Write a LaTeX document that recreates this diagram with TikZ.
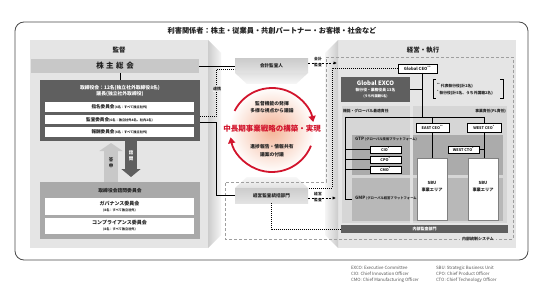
\documentclass[tikz,border=0pt]{standalone}
\usepackage{fontspec}
\setmainfont{Noto Sans CJK JP}
\usetikzlibrary{arrows.meta,calc}
\definecolor{panelc}{HTML}{E5E5E5}
\definecolor{darkc}{HTML}{5F5F5F}
\definecolor{midc}{HTML}{A9A9A9}
\definecolor{boxg}{HTML}{C8C8C8}
\definecolor{redc}{HTML}{D2142C}
\definecolor{colc}{HTML}{D6D6D6}
\definecolor{gtpc}{HTML}{ABABAB}
\definecolor{gmpc}{HTML}{B8B8B8}
\definecolor{framec}{HTML}{4A4A4A}
\definecolor{txtc}{HTML}{222222}
\definecolor{legc}{HTML}{555555}
\definecolor{salmon}{HTML}{F4B497}
\newcommand{\myfs}[2]{\fontsize{#1pt}{#2pt}\selectfont\bfseries}
\begin{document}
\begin{tikzpicture}[x=1pt,y=-1pt,
  every node/.style={inner sep=0pt,outer sep=0pt,text=txtc},
  conn/.style={line width=0.75pt, draw=black},
  dotc/.style={line width=0.9pt, draw=black, dash pattern=on 0.9pt off 1.1pt},
  dasharrow/.style={line width=0.6pt, draw=black, dash pattern=on 2pt off 1.5pt, -{Latex[length=3.5pt,width=3.2pt]}},
  wbox/.style={fill=white, minimum width=149pt},
  cbox/.style={fill=white, draw=black, line width=0.5pt, font=\myfs{3.8}{4}},
  midbox/.style={top color=white!80!black, bottom color=white!89!black, minimum width=73pt, font=\myfs{4.6}{5}},
  redarc/.style={draw=redc, line width=1.8pt, -{Triangle[length=6pt,width=7pt]}},
  small/.style={font=\myfs{4.8}{5}},
  tiny/.style={font=\myfs{3.2}{4}},
  legend/.style={anchor=west, text=legc, font=\fontsize{4.4pt}{5pt}\selectfont},
  sbubox/.style={fill=white, draw=gray, line width=0.5pt, minimum width=30pt, minimum height=62pt},
  sbutxt/.style={font=\myfs{4.2}{5}}]
\useasboundingbox (0,0) rectangle (543,302);
\fill[white] (0,0) rectangle (543,302);

% outer frame
\draw[framec, line width=0.8pt, rounded corners=9pt] (15,22) rectangle (528,260);
\node[font=\myfs{7.2}{8}] (title) at (272,31) {利害関係者：株主・従業員・共創パートナー・お客様・社会など};

% panels and walls
\fill[panelc] (30,40) rectangle (208,248);
\shade[left color=white!80!black, right color=white!96!black] (208,40) -- (221,53) -- (221,235) -- (208,248) -- cycle;
\fill[panelc] (338,40) rectangle (516,248);
\shade[left color=white!96!black, right color=white!80!black] (325,53) -- (338,40) -- (338,248) -- (325,235) -- cycle;
\shade[top color=white!88!black, bottom color=white!97!black] (235,73) -- (308,73) -- (296,84) -- (247,84) -- cycle;
\shade[top color=white!97!black, bottom color=white!88!black] (247,177) -- (296,177) -- (308,188) -- (235,188) -- cycle;

\node[font=\myfs{6.5}{7}] (kantoku) at (119,50) {監督};
\node[font=\myfs{6.5}{7}] (keiei) at (423,50) {経営・執行};

% left: supervision
\node[fill=boxg, minimum width=168pt, minimum height=14pt, font=\myfs{7.5}{8}] (agm) at (115,66) {株\kern2.5pt 主\kern2.5pt 総\kern2.5pt 会};
\node[fill=darkc, minimum width=160pt, minimum height=61pt] (board) at (120,110.5) {};
\node[text=white, font=\myfs{4.8}{5}] (boardtxt1) at (120,88) {取締役会：12名(独立社外取締役8名)};
\node[text=white, font=\myfs{4.8}{5}] (boardtxt2) at (120,94) {議長(独立社外取締役)};
\draw[conn] (agm.south -| board.north) -- (board.north);
\node[wbox, minimum height=10pt, font=\myfs{4.6}{5}] (nom) at (119.5,107) {指名委員会{\myfs{3.2}{4}(4名：すべて独立社外)}};
\node[wbox, minimum height=9pt, font=\myfs{4.6}{5}] (aud) at (119.5,119.5) {監査委員会{\myfs{3.2}{4}(6名：独立社外4名、社内2名)}};
\node[wbox, minimum height=10pt, font=\myfs{4.6}{5}] (comp) at (119.5,132) {報酬委員会{\myfs{3.2}{4}(4名：すべて独立社外)}};

\node[fill=midc, minimum width=160pt, minimum height=57pt] (adv) at (120,210.5) {};
\node[font=\myfs{4.8}{5}] (advtxt) at (120,190.5) {取締役会諮問委員会};
\node[wbox, minimum height=17pt] (gov) at (119.5,206.5) {};
\node[font=\myfs{5}{6}] (govt1) at (119.5,203.5) {ガバナンス委員会};
\node[tiny] (govt2) at (119.5,210) {(8名：すべて独立社外)};
\node[wbox, minimum height=16pt] (cpl) at (119.5,226) {};
\node[font=\myfs{5}{6}] (cplt1) at (119.5,223) {コンプライアンス委員会};
\node[tiny] (cplt2) at (119.5,229.5) {(8名：すべて独立社外)};

\draw[line width=14pt, draw=boxg, -{Triangle[length=8pt,width=23pt]}] ([xshift=-9pt]adv.north) -- ([xshift=-9pt,yshift=-2pt]board.south);
\draw[line width=12pt, draw=darkc, -{Triangle[length=8pt,width=19pt]}] ([xshift=11pt]board.south) -- ([xshift=11pt,yshift=5pt]adv.north);
\node[font=\myfs{4.5}{5}] (toshin1) at (111,160) {答};
\node[font=\myfs{4.5}{5}] (toshin2) at (111,165.5) {申};
\node[font=\myfs{4.5}{5}, text=white] (shimon1) at (131,153) {諮};
\node[font=\myfs{4.5}{5}, text=white] (shimon2) at (131,158.5) {問};

% middle
\node[midbox, minimum height=14pt] (auditor) at (271.5,66) {会計監査人};
\node[midbox, minimum height=15pt] (iad) at (271.5,195.5) {経営監査統括部門};
\node[circle, minimum size=86pt, inner color=salmon, outer color=white] (core) at (272,130) {};
\draw[redarc] (core.center) ++(-153:42) arc[start angle=-153, end angle=-11, radius=42];
\draw[redarc] (core.center) ++(22:42) arc[start angle=22, end angle=170, radius=42];
\node[small] (sup1) at (272,103.5) {監督機能の発揮};
\node[small] (sup2) at (272,111) {多様な視点から議論};
\node[small] (rep1) at (272,147) {進捗報告・情報共有};
\node[small] (rep2) at (272,154.5) {議案の付議};
\node[font=\myfs{7.5}{8}, text=redc] (goal) at (272,129) {中長期事業戦略の構築・実現};

% right: management
\draw[gray!75, line width=0.7pt, dash pattern=on 3pt off 2pt] (326,57) -- (513,57) -- (513,239) -- (225,239) -- (225,182) -- (326,182) -- cycle;
\fill[colc] (342,106) rectangle (410,223);
\fill[colc] (413,106) rectangle (507,223);
\node[fill=gtpc, minimum width=151pt, minimum height=40pt] (gtp) at (427.5,155) {};
\node[fill=gmpc, minimum width=151pt, minimum height=43pt] (gmp) at (427.5,199.5) {};
\fill[white!88!black] (410,135) rectangle (413,221);
\node[anchor=west, font=\myfs{3.8}{4}] (func) at (343,111) {機能・グローバル最適責任};
\node[anchor=east, font=\myfs{3.8}{4}] (bus) at (506,111) {事業責任(PL責任)};
\node[anchor=west, font=\myfs{3.3}{4}] (gtptxt) at (355,139) {{\myfs{4.5}{5}GTP} (グローバル技術プラットフォーム)};
\node[anchor=west, font=\myfs{3.3}{4}] (gmptxt) at (355,198) {{\myfs{4.5}{5}GMP} (グローバル経営プラットフォーム)};

\node[cbox, minimum width=39pt, minimum height=9pt, font=\myfs{4.2}{5}] (gceo) at (417.5,68.5) {Global CEO\textsuperscript{**}};
\node[fill=darkc, minimum width=69pt, minimum height=25pt] (exco) at (375.5,89.5) {};
\node[text=white, font=\myfs{6}{7}] (excot1) at (375.5,83) {Global EXCO};
\node[text=white, font=\myfs{3.8}{4}] (excot2) at (375.5,90.5) {執行役・業務役員 13名};
\node[text=white, font=\myfs{3.3}{4}] (excot3) at (375.5,96.5) {(うち外国籍5名)};
\draw[line width=0.5pt] (436,79) -- (433,79) -- (433,98) -- (436,98);
\draw[line width=0.5pt] (500,79) -- (503,79) -- (503,98) -- (500,98);
\node[anchor=west, font=\myfs{3.8}{4}] (leg1) at (437,86) {\textsuperscript{**}\,代表執行役(計2名)};
\node[anchor=west, font=\myfs{3.8}{4}] (leg2) at (437,93) {\textsuperscript{*}\,執行役(計5名、うち外国籍2名)};

\coordinate (hL) at (345,117);
\coordinate (trunk) at (422,117);
\draw[conn] (gceo.south -| trunk) -- (trunk);
\draw[conn] (exco.east) -- (exco.east -| trunk);
\node[cbox, minimum width=33pt, minimum height=9pt] (eceo) at (432.5,127.5) {EAST CEO\textsuperscript{**}};
\node[cbox, minimum width=34pt, minimum height=9pt] (wceo) at (484,127.5) {WEST CEO\textsuperscript{*}};
\draw[conn] (hL) -- (wceo.north |- hL);
\draw[conn] (eceo.north |- hL) -- (eceo.north);
\draw[conn] (wceo.north |- hL) -- (wceo.north);
\node[cbox, minimum width=31pt, minimum height=7pt] (cio) at (385.5,149.5) {CIO\textsuperscript{*}};
\node[cbox, minimum width=31pt, minimum height=7pt] (cpo) at (385.5,159.5) {CPO\textsuperscript{*}};
\node[cbox, minimum width=31pt, minimum height=7pt] (cmo) at (385.5,169.5) {CMO\textsuperscript{*}};
\node[cbox, minimum width=31pt, minimum height=7pt] (wcto) at (463.5,149.5) {WEST CTO\textsuperscript{*}};
\node[sbubox] (sbu1) at (432,189) {};
\node[sbutxt] (sbu1a) at (432,183) {SBU};
\node[sbutxt] (sbu1b) at (432,190) {事業エリア};
\node[sbubox] (sbu2) at (483,189) {};
\node[sbutxt] (sbu2a) at (483,183) {SBU};
\node[sbutxt] (sbu2b) at (483,190) {事業エリア};
\draw[conn] (hL) -- (hL |- gmp.west) -- (gmp.west);
\draw[conn] (hL |- cio.west) -- (cio.west);
\draw[conn] (hL |- cpo.west) -- (cpo.west);
\draw[conn] (hL |- cmo.west) -- (cmo.west);
\draw[conn] (eceo.south) -- (eceo.south |- sbu1.north);
\draw[conn] (wceo.south) -- (wceo.south |- sbu2.north);
\draw[conn] (wcto.east) -- (wcto.east -| wceo.south);
\node[fill=darkc, minimum width=167pt, minimum height=8pt, text=white, font=\myfs{4}{5}] (ia) at (424.5,229) {内部監査部門};
\node[fill=panelc, inner xsep=2pt, font=\myfs{4}{5}] (ics) at (478,239) {内部統制システム};

% connectors
\draw[conn] (agm.east) -- (agm.east -| auditor.west);
\draw[dotc] (board.east |- 0,116.5) -- (216,116.5) -- (216,69.5) -- (auditor.west |- 0,69.5);
\node[fill=white!93!black, inner ysep=1pt, font=\myfs{4}{5}] (renkei) at (217,89) {連携};
\draw[conn] (board.east |- 0,122) -- (216,122) -- (216,195.5) -- (iad.west);
\draw[dotc] (gceo.west) -- (332,68.5) -- (332,188) -- (iad.east |- 0,188);
\draw[dotc] (iad.south) -- (iad.south |- ia.west) -- (ia.west);
\coordinate (kaiend) at (337,63);
\coordinate (keiend) at (336,198);
\draw[dasharrow] (auditor.east |- kaiend) -- (kaiend);
\node[fill=white, font=\myfs{3.8}{4}] (kaitxt1) at (318,59.5) {会計};
\node[fill=white, font=\myfs{3.8}{4}] (kaitxt2) at (318,65.5) {監査};
\draw[dasharrow] (iad.east |- keiend) -- (keiend);
\node[fill=white, font=\myfs{3.8}{4}] (keitxt1) at (318,194.5) {経営};
\node[fill=white, font=\myfs{3.8}{4}] (keitxt2) at (318,200.5) {監査};

% legend
\node[legend] (legL1) at (351,268) {EXCO: Executive Committee};
\node[legend] (legL2) at (351,274) {CIO: Chief Innovation Officer};
\node[legend] (legL3) at (351,280) {CMO: Chief Manufacturing Officer};
\node[legend] (legR1) at (436,268) {SBU: Strategic Business Unit};
\node[legend] (legR2) at (436,274) {CPO: Chief Product Officer};
\node[legend] (legR3) at (436,280) {CTO: Chief Technology Officer};
\end{tikzpicture}
\end{document}
